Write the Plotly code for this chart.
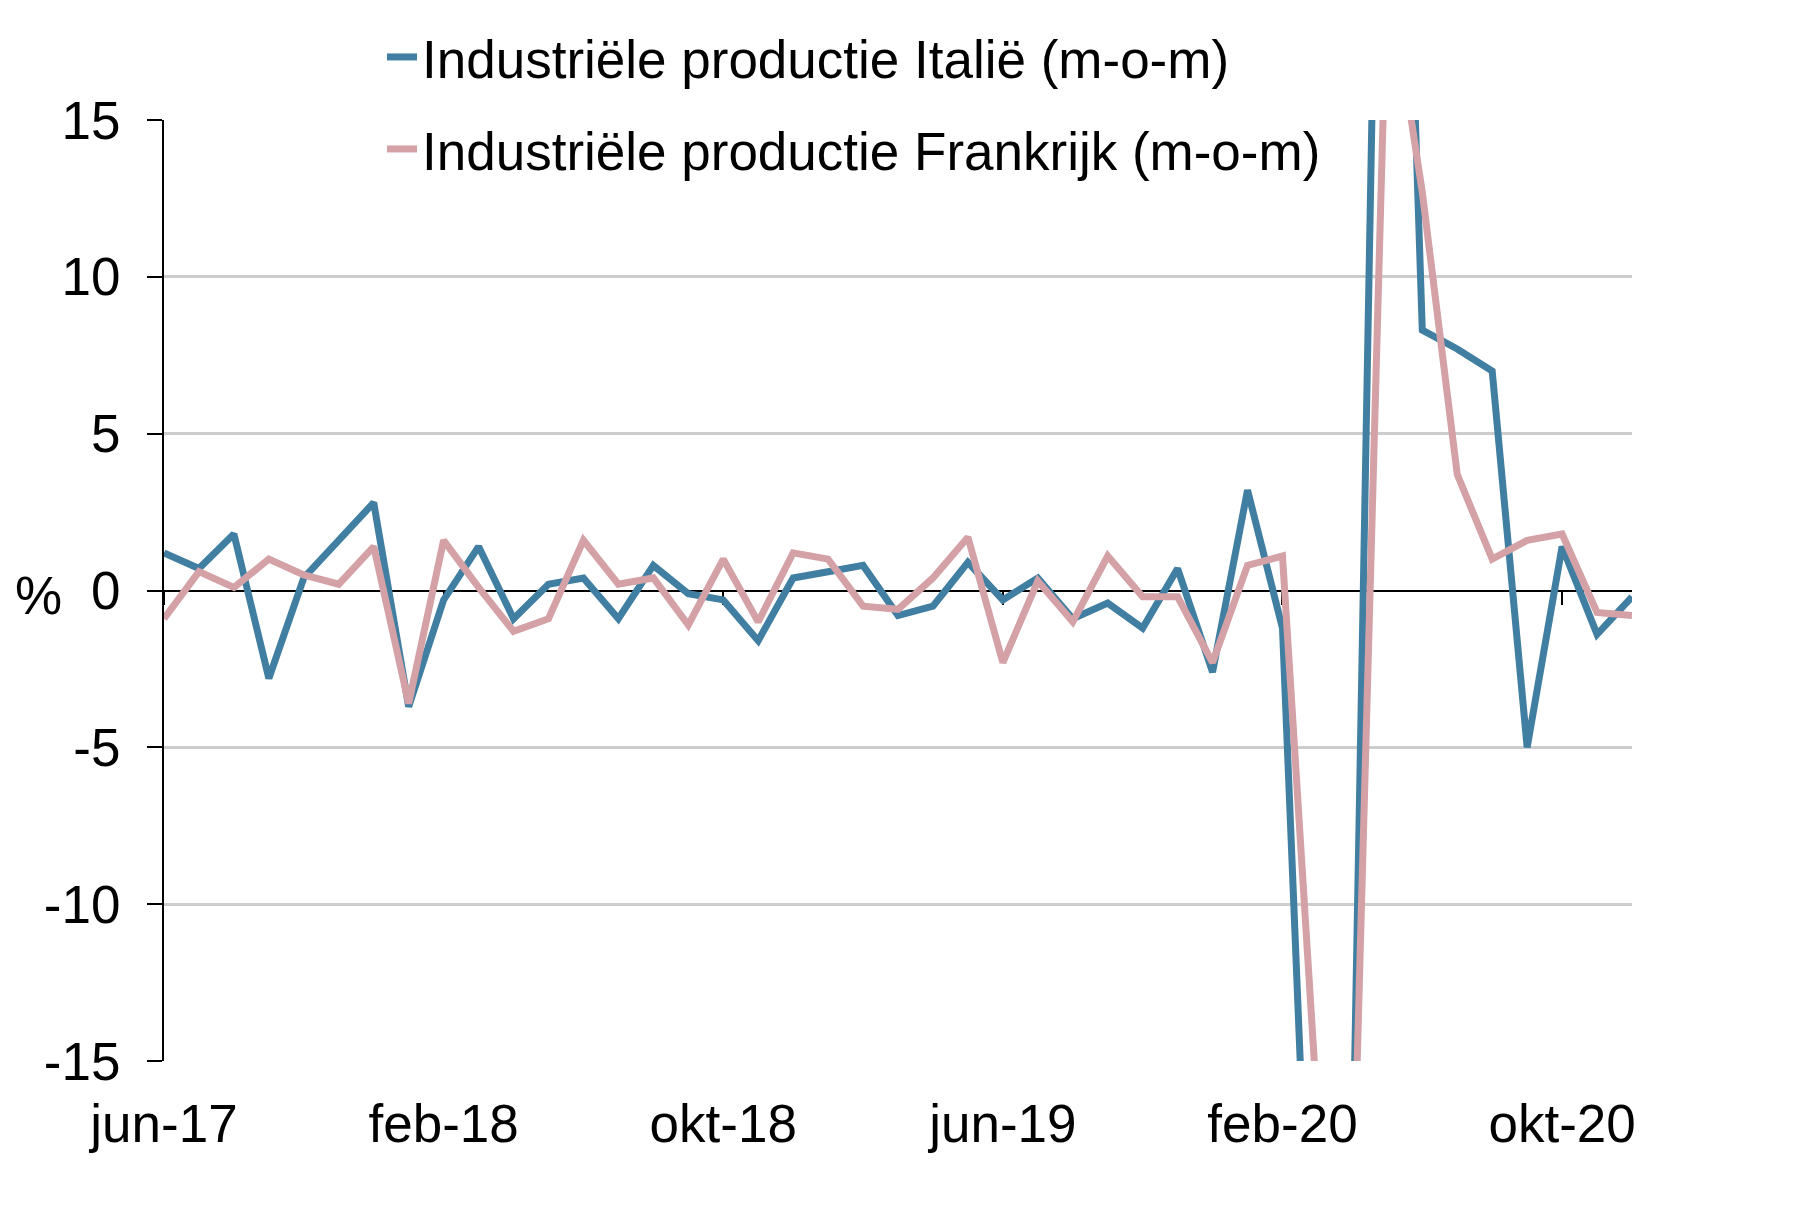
import plotly.graph_objects as go

# ---- data ----
month_names = ["jan", "feb", "mrt", "apr", "mei", "jun", "jul", "aug", "sep", "okt", "nov", "dec"]
months = []
for yr in range(17, 21):
    for m in month_names:
        months.append(f"{m}-{yr}")
months = months[months.index("jun-17"):months.index("dec-20") + 1]

italy = [1.2, 0.7, 1.8, -2.8, 0.4, 1.6, 2.8, -3.7, -0.3, 1.4,
         -0.9, 0.2, 0.4, -0.9, 0.8, -0.1, -0.3, -1.6, 0.4, 0.6,
         0.8, -0.8, -0.5, 0.9, -0.3, 0.4, -0.9, -0.4, -1.2, 0.7,
         -2.6, 3.2, -1.2, -28.4, -19.1, 42.1, 8.3, 7.7, 7.0, -5.0,
         1.4, -1.4, -0.2]
france = [-0.9, 0.6, 0.1, 1.0, 0.5, 0.2, 1.4, -3.6, 1.6, 0.1,
          -1.3, -0.9, 1.6, 0.2, 0.4, -1.1, 1.0, -1.0, 1.2, 1.0,
          -0.5, -0.6, 0.4, 1.7, -2.3, 0.3, -1.0, 1.1, -0.2, -0.2,
          -2.3, 0.8, 1.1, -16.6, -20.6, 20.0, 12.7, 3.7, 1.0, 1.6,
          1.8, -0.7, -0.8]

series_names = ["Industriële productie Italië (m-o-m)",
                "Industriële productie Frankrijk (m-o-m)"]
x_ticks = ["jun-17", "feb-18", "okt-18", "jun-19", "feb-20", "okt-20"]
y_ticks = [15, 10, 5, 0, -5, -10, -15]
y_ticktext = ["15", "10", "5", "0", "-5", "-10", "-15"]
y_min, y_max = -15, 15

BLUE = "#417FA2"
PINK = "#D3A1A6"
FONT = "Liberation Sans, Arial, sans-serif"
FS = 53
W, H = 1806, 1209

fig = go.Figure()
fig.add_trace(go.Scatter(x=months, y=italy, mode="lines", name=series_names[0],
                         line=dict(color=BLUE, width=7), legend="legend"))
fig.add_trace(go.Scatter(x=months, y=france, mode="lines", name=series_names[1],
                         line=dict(color=PINK, width=7), legend="legend2",
                         xaxis="x2"))

zero_pos = (0 - y_min) / (y_max - y_min)
n = len(months)

fig.update_layout(
    width=W, height=H,
    margin=dict(l=156, r=182, t=112, b=156, autoexpand=False),
    paper_bgcolor="white", plot_bgcolor="white",
    font=dict(family=FONT, size=FS, color="#000000"),
    showlegend=True,
    xaxis=dict(type="category", categoryorder="array", categoryarray=months,
               range=[0, n - 1], tickvals=x_ticks, ticktext=x_ticks, tickangle=0,
               showgrid=False, zeroline=False, showline=False, ticks="",
               ticklabelstandoff=27, tickfont=dict(size=FS)),
    xaxis2=dict(type="category", categoryorder="array", categoryarray=months,
                range=[0, n - 1], overlaying="x", anchor="free", position=zero_pos,
                tickvals=x_ticks, showticklabels=False, ticks="outside",
                ticklen=13, tickwidth=2, tickcolor="black", showline=False,
                showgrid=False, zeroline=False, layer="below traces"),
    yaxis=dict(range=[y_min, y_max], tickvals=y_ticks, ticktext=y_ticktext,
               showgrid=True, gridcolor="#CDCDCD", gridwidth=2.5,
               zeroline=True, zerolinecolor="black", zerolinewidth=2,
               showline=True, linecolor="black", linewidth=2,
               ticks="outside", ticklen=15, tickwidth=2, tickcolor="black",
               ticklabelstandoff=16, tickfont=dict(size=FS)),
    legend=dict(xref="container", yref="container", x=374 / W, y=1 - 49 / H,
                xanchor="left", yanchor="middle", bgcolor="rgba(0,0,0,0)",
                font=dict(size=FS)),
    legend2=dict(xref="container", yref="container", x=374 / W, y=1 - 141 / H,
                 xanchor="left", yanchor="middle", bgcolor="rgba(0,0,0,0)",
                 font=dict(size=FS)),
    annotations=[dict(text="%", xref="paper", yref="y", x=-0.0855, y=0,
                      xanchor="center", yanchor="middle", yshift=-5,
                      showarrow=False, font=dict(size=FS))],
)

fig.write_html("out.html")
